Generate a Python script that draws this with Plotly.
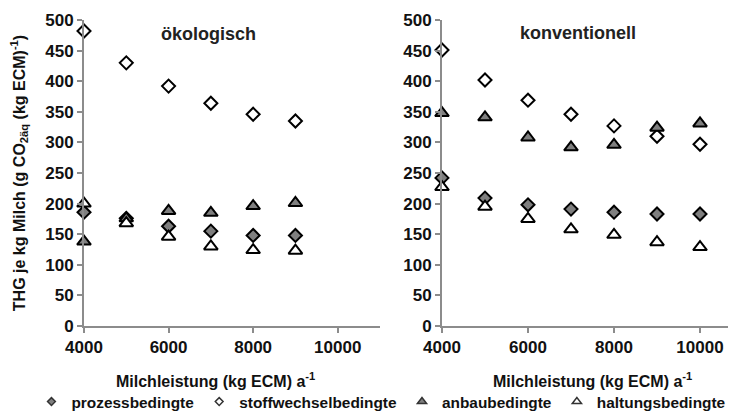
import plotly.graph_objects as go

# ökologisch
x_oeko = [4000, 5000, 6000, 7000, 8000, 9000]
prozess_oeko = [186, 176, 163, 155, 148, 148]
stoffw_oeko = [482, 430, 392, 364, 346, 335]
anbau_oeko = [138, 176, 188, 185, 196, 201]
haltung_oeko = [200, 168, 146, 130, 124, 123]

# konventionell
x_konv = [4000, 5000, 6000, 7000, 8000, 9000, 10000]
prozess_konv = [242, 209, 198, 191, 186, 183, 183]
stoffw_konv = [451, 402, 369, 346, 327, 310, 297]
anbau_konv = [348, 341, 308, 292, 296, 324, 331]
haltung_konv = [227, 195, 175, 158, 149, 137, 129]

x_ticks = [4000, 6000, 8000, 10000]
x_ticktext = ["4000", "6000", "8000", "10000"]
y_ticks = [0, 50, 100, 150, 200, 250, 300, 350, 400, 450, 500]

names = ["prozessbedingte", "stoffwechselbedingte", "anbaubedingte", "haltungsbedingte"]
GRAY = "#7f7f7f"
styles = [
    dict(symbol="diamond", size=10, color=GRAY),
    dict(symbol="diamond", size=10, color="white"),
    dict(symbol="triangle-up", size=12, color=GRAY),
    dict(symbol="triangle-up", size=12, color="white"),
]

W, H = 728, 404  # page body adds an 8px margin
T, B = 12, 86
PH = H - T - B

fig = go.Figure()
series_oeko = [prozess_oeko, stoffw_oeko, anbau_oeko, haltung_oeko]
series_konv = [prozess_konv, stoffw_konv, anbau_konv, haltung_konv]
draw_order = [1, 0, 2, 3]
for i in draw_order:
    st = styles[i]
    mk = dict(symbol=st["symbol"], size=st["size"], color=st["color"],
              line=dict(color="black", width=2))
    fig.add_trace(go.Scatter(x=x_oeko, y=series_oeko[i], mode="markers", name=names[i],
                             showlegend=False, xaxis="x", yaxis="y", marker=mk,
                             cliponaxis=False))
    fig.add_trace(go.Scatter(x=x_konv, y=series_konv[i], mode="markers", name=names[i],
                             showlegend=False, xaxis="x2", yaxis="y2", marker=mk,
                             cliponaxis=False))

# legend entries with small symbols
for i in range(4):
    st = styles[i]
    fig.add_trace(go.Scatter(x=[None], y=[None], mode="markers", name=names[i],
                             showlegend=True, legendrank=i, xaxis="x", yaxis="y",
                             marker=dict(symbol=st["symbol"], size=st["size"] - 4,
                                         color=st["color"],
                                         line=dict(color="#333333", width=1.5))))

FONT = "Liberation Sans, Arial, sans-serif"
tickfont = dict(family=FONT, size=17, color="#111111", weight="bold")
axis_common = dict(showline=True, linecolor="#8c8c8c", linewidth=2,
                   ticks="outside", ticklen=5, tickcolor="#8c8c8c", tickwidth=2,
                   showgrid=False, zeroline=False, tickfont=tickfont, automargin=False)

xtitle_text = "<b>Milchleistung (kg ECM) a<sup>-1</sup></b>"
xtitle_font = dict(family=FONT, size=16, color="#111111")
xtitle_y = (H - B - 372) / PH

fig.update_layout(
    width=W, height=H,
    margin=dict(l=0, r=0, t=T, b=B),
    paper_bgcolor="white", plot_bgcolor="white",
    showlegend=True,
    legend=dict(orientation="h", x=0.513, xanchor="center",
                y=10/H, yref="container", yanchor="middle",
                font=dict(family=FONT, size=15.4, color="#111111", weight="bold"),
                itemwidth=30, tracegroupgap=0),
    xaxis=dict(domain=[76/W, 372/W], range=[4000, 11000], tickvals=x_ticks,
               ticktext=x_ticktext, anchor="y", **axis_common),
    xaxis2=dict(domain=[434/W, 1.0], range=[4000, 10837], tickvals=x_ticks,
                ticktext=x_ticktext, anchor="y2", **axis_common),
    yaxis=dict(range=[0, 500], tickvals=y_ticks, anchor="x",
               title=dict(text="<b>THG je kg Milch (g CO<sub>2äq</sub> (kg ECM)<sup>-1</sup>)</b>",
                          font=dict(family=FONT, size=16, color="#111111"), standoff=16),
               **axis_common),
    yaxis2=dict(range=[0, 500], tickvals=y_ticks, anchor="x2", **axis_common),
    annotations=[
        dict(text="<b>ökologisch</b>", x=200/W, y=477, xref="paper", yref="y",
             xanchor="center", showarrow=False,
             font=dict(family=FONT, size=18, color="#222222")),
        dict(text="<b>konventionell</b>", x=570/W, y=479, xref="paper", yref="y2",
             xanchor="center", showarrow=False,
             font=dict(family=FONT, size=18, color="#222222")),
        dict(text=xtitle_text, x=207/W, y=xtitle_y, xref="paper", yref="paper",
             xanchor="center", yanchor="middle", showarrow=False, font=xtitle_font),
        dict(text=xtitle_text, x=584/W, y=xtitle_y, xref="paper", yref="paper",
             xanchor="center", yanchor="middle", showarrow=False, font=xtitle_font),
    ],
)

fig.write_html("out.html")
